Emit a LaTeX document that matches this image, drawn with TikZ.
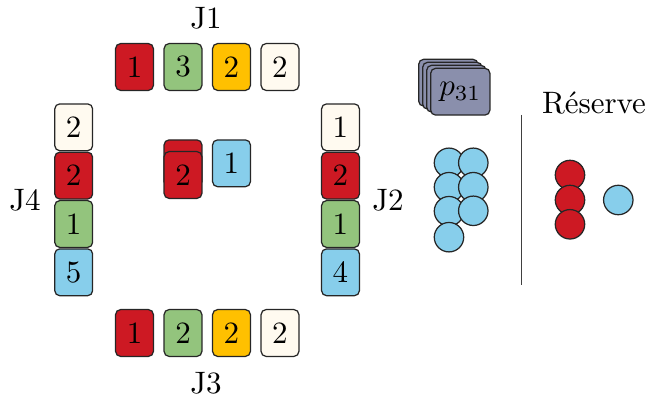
\documentclass[tikz,border=0pt]{standalone}
\definecolor{cred}{RGB}{205,25,35}
\definecolor{cgreen}{RGB}{147,196,125}
\definecolor{cyellow}{RGB}{255,192,0}
\definecolor{cwhite}{RGB}{255,250,240}
\definecolor{cblue}{RGB}{135,206,235}
\definecolor{cdeck}{RGB}{138,143,172}
\tikzset{
  card/.style={draw=black!85, rounded corners=1.6pt, minimum width=12.2pt, minimum height=15.1pt, inner sep=0pt, fill=#1},
  deckcard/.style={draw=black!85, rounded corners=1.6pt, minimum width=19.1pt, minimum height=15.1pt, inner sep=0pt, fill=cdeck},
  token/.style={draw=black!85, circle, minimum size=9.5pt, inner sep=0pt, fill=#1},
  lbl/.style={inner sep=0pt, anchor=base},
}
\begin{document}
\begin{tikzpicture}[x=0.3226pt, y=-0.3226pt]
\path[use as bounding box] (0,0) rectangle (649,401);
% J1
\node[lbl] (j1) at (206,28.7) {J1};
\node[card=cred] (a1) at (134.5,67) {1};
\node[card=cgreen] (a2) at (183,67) {3};
\node[card=cyellow] (a3) at (231.5,67) {2};
\node[card=cwhite] (a4) at (280,67) {2};
% J3
\node[lbl] (j3) at (206,394) {J3};
\node[card=cred] (c1) at (134.5,333) {1};
\node[card=cgreen] (c2) at (183,333) {2};
\node[card=cyellow] (c3) at (231.5,333) {2};
\node[card=cwhite] (c4) at (280,333) {2};
% J4
\node[lbl] (j4) at (25,211) {J4};
\node[card=cwhite] (d1) at (73.7,127.3) {2};
\node[card=cred] (d2) at (73.7,175.6) {2};
\node[card=cgreen] (d3) at (73.7,224) {1};
\node[card=cblue] (d4) at (73.7,272.3) {5};
% J2
\node[lbl] (j2) at (388,211) {J2};
\node[card=cwhite] (b1) at (340.5,127.3) {1};
\node[card=cred] (b2) at (340.5,175.6) {2};
\node[card=cgreen] (b3) at (340.5,224) {1};
\node[card=cblue] (b4) at (340.5,272.3) {4};
% played
\node[card=cred] (r1) at (183,163.3) {};
\node[card=cred] (r2) at (183,175) {2};
\node[card=cblue] (u1) at (231.5,163.3) {1};
% deck
\node[deckcard] (k3) at (448.3,82.7) {};
\node[deckcard] (k2) at (452.3,85.7) {};
\node[deckcard] (k1) at (456.3,88.7) {};
\node[deckcard] (k0) at (460.3,91.7) {$p_{31}$};
% hint tokens
\node[token=cblue] (t1) at (449,162.8) {};
\node[token=cblue] (t2) at (473.3,162.8) {};
\node[token=cblue] (t3) at (449,187.2) {};
\node[token=cblue] (t4) at (473.3,187.2) {};
\node[token=cblue] (t5) at (449,211.2) {};
\node[token=cblue] (t6) at (473.3,210.8) {};
\node[token=cblue] (t7) at (449,237.2) {};
% separator
\coordinate (s1) at (521.7,115);
\coordinate (s2) at (521.7,285);
\draw[black!75, line width=0.45pt] (s1) -- (s2);
% reserve
\node[lbl] (res) at (594,113.3) {Réserve};
\node[token=cred] (f1) at (570,175) {};
\node[token=cred] (f2) at (570,200) {};
\node[token=cred] (f3) at (570,224.3) {};
\node[token=cblue] (h1) at (618.3,200) {};
\end{tikzpicture}
\end{document}
